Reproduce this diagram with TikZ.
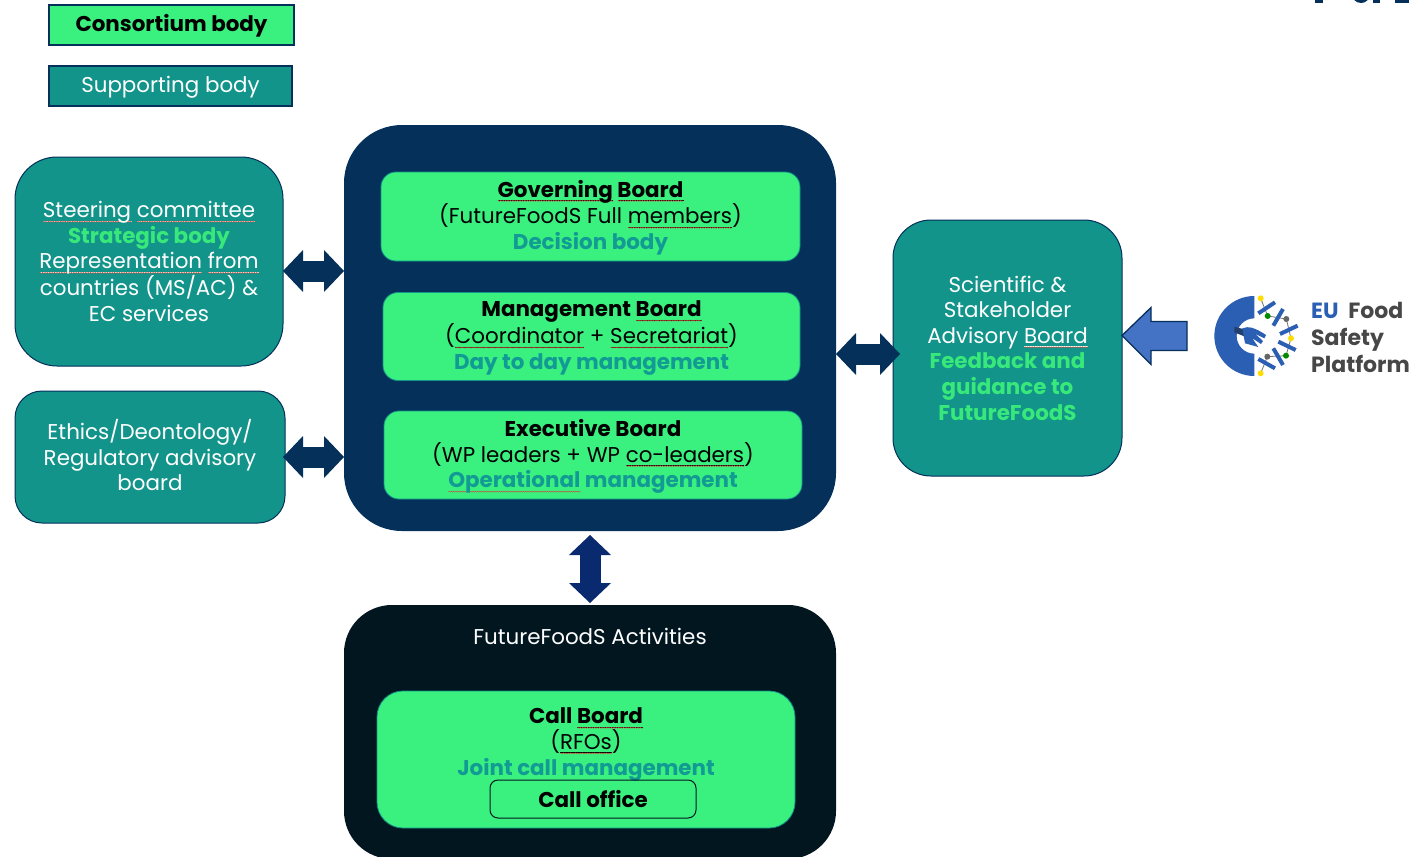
\documentclass[tikz,border=0pt]{standalone}
\usepackage{fontspec}
\setmainfont{Poppins}
\usetikzlibrary{arrows.meta,decorations.pathmorphing}
\definecolor{cgreen}{HTML}{3AF07F}
\definecolor{cteal}{HTML}{12948A}
\definecolor{cnavy}{HTML}{04305A}
\definecolor{cdark}{HTML}{02161F}
\definecolor{cdeep}{HTML}{0A2A70}
\definecolor{cblue}{HTML}{4472C4}
\definecolor{clogo}{HTML}{2B5FB3}
\definecolor{ctxtg}{HTML}{38E87A}
\definecolor{ctxtt}{HTML}{129A94}
\definecolor{csq}{HTML}{C8503C}
\newlength\sqw
\newcommand{\sq}[1]{\settowidth\sqw{#1}\rlap{\smash{\tikz[baseline=0pt,sharp corners]{%
  \draw[draw=.,line width=.6pt] (0pt,-3.2pt) -- (\sqw,-3.2pt);
  \draw[draw=csq,line width=.45pt,decorate,decoration={zigzag,amplitude=.5pt,segment length=2.4pt}] (0pt,-3.9pt) -- (\sqw,-3.9pt);}}}#1}
\newcommand{\sqr}[1]{\settowidth\sqw{#1}\rlap{\smash{\tikz[baseline=0pt,sharp corners]{%
  \draw[draw=csq,line width=.45pt,decorate,decoration={zigzag,amplitude=.5pt,segment length=2.4pt}] (0pt,-3.9pt) -- (\sqw,-3.9pt);}}}#1}
\tikzset{
  x=1pt,y=-1pt,
  bx/.style={inner sep=0pt,outer sep=0pt,align=center,font=\fontsize{21.4}{25.6}\selectfont},
  greenbox/.style={bx,fill=cgreen,draw=cteal,line width=.8pt,rounded corners=15pt,text=black},
  tealbox/.style={bx,fill=cteal,draw=cnavy,line width=1pt,text=white},
  legendbox/.style={bx,draw=cnavy,line width=1.2pt,rounded corners=0pt},
  dbl/.style={line width=21pt,draw=cnavy,{Triangle[length=20pt,width=42pt,line width=0pt]}-{Triangle[length=20pt,width=42pt,line width=0pt]}},
  dblv/.style={dbl,draw=cdeep},
  lbl/.style={inner sep=0pt,outer sep=0pt,align=center,font=\fontsize{21.4}{25.6}\selectfont},
  bar/.style={line width=4pt,draw=clogo},
  logotxt/.style={inner sep=0pt,anchor=base west,font=\fontsize{22}{26}\selectfont\bfseries,text=black!72},
}
\newcommand{\tg}[1]{{\color{ctxtg}\bfseries #1}}
\newcommand{\tq}[1]{{\color{ctxtt}\bfseries #1}}
\begin{document}
\begin{tikzpicture}
\useasboundingbox (0,0) rectangle (1409,857);
\fill[white] (0,0) rectangle (1409,857);
% clipped fragment of a cut-off mark at the top right
\begin{scope}
\clip (1300,0) rectangle (1409,3);
\fill[cnavy] (1315,0) rectangle (1323,3);
\fill[cnavy] (1361,-6) ellipse (9 and 9);
\fill[cnavy] (1373,0) rectangle (1380,3);
\fill[cnavy] (1395,0) rectangle (1409,3);
\end{scope}
% legend
\node[legendbox,fill=cgreen,text=black,minimum width=245pt,minimum height=40pt] (lega) at (171.5,25) {\raisebox{0pt}[14pt][2pt]{\bfseries Consortium body}};
\node[legendbox,fill=cteal,text=white,minimum width=243pt,minimum height=40pt] (legb) at (170.5,86) {\raisebox{0pt}[14pt][2pt]{Supporting body}};
% left boxes
\node[tealbox,rounded corners=42pt,minimum width=268pt,minimum height=209pt] (steer) at (149,261.5) {\sq{Steering} \sq{committee}\\\tg{Strategic body}\\\sq{Representation} \sq{from}\\countries (MS/AC) \&\\EC services};
\node[tealbox,rounded corners=27pt,minimum width=270pt,minimum height=132pt] (ethics) at (150,457) {Ethics/Deontology/\\Regulatory advisory\\\rule[-4pt]{0pt}{0pt}board};
% main
\node[bx,fill=cnavy,rounded corners=58pt,minimum width=492pt,minimum height=406pt] (main) at (590,328) {};
\node[greenbox,minimum width=419pt,minimum height=89pt] (gov) at (590.5,216.5) {};
\node[lbl,text=black] (govtxt) at (590.5,217.5) {\textbf{\sq{Governing} \sq{Board}}\\(FutureFoodS Full \sq{members})\\\tq{Decision body}};
\node[greenbox,minimum width=417pt,minimum height=88pt] (mgmt) at (591.5,336.5) {};
\node[lbl,text=black] (mgmttxt) at (591.5,338) {\textbf{Management \sq{Board}}\\(\sq{Coordinator} + \sq{Secretariat})\\\tq{Day to day management}};
\node[greenbox,minimum width=418pt,minimum height=88pt] (exec) at (593,455) {};
\node[lbl,text=black] (exectxt) at (593,456.5) {\textbf{Executive Board}\\(WP leaders + WP \sq{co-leaders})\\\tq{\sqr{Operational} management}};
% activities
\node[bx,fill=cdark,rounded corners=48pt,minimum width=492pt,minimum height=254pt] (act) at (590,732) {};
\node[lbl,text=white] (acttxt) at (590,636) {FutureFoodS Activities};
\node[greenbox,rounded corners=26pt,minimum width=418pt,minimum height=137pt] (call) at (586,759.5) {};
\node[lbl,text=black] (calltxt) at (586,744.5) {\textbf{Call \sq{Board}}\\(\sq{RFOs})\\\tq{Joint call management}};
\node[bx,draw=cdark,line width=1pt,rounded corners=8pt,minimum width=206pt,minimum height=38pt,text=black] (office) at (593,799) {\bfseries Call office};
% right box
\node[tealbox,rounded corners=38pt,minimum width=229pt,minimum height=256pt] (sci) at (1007.5,348) {Scientific \&\\Stakeholder\\Advisory \sq{Board}\\\tg{Feedback and}\\\tg{guidance to}\\\tg{FutureFoodS}};
% connectors
\coordinate (ya) at (0,271);
\coordinate (yb) at (0,457);
\coordinate (yc) at (0,354);
\coordinate (yd) at (0,335.5);
\draw[dbl] (steer.east |- ya) -- (main.west |- ya);
\draw[dbl] ([xshift=-2pt]ethics.east |- yb) -- (main.west |- yb);
\draw[dbl] (main.east |- yc) -- ([xshift=7pt]sci.west |- yc);
\draw[dblv] ([yshift=-4pt]main.south) -- ([yshift=2pt]act.north);
\coordinate (bt) at (sci.east |- yd);
\draw[draw=cnavy,fill=cblue,line width=1.3pt,line join=miter] (bt) -- ++(29,-28) -- ++(0,14) -- ++(36,0) -- ++(0,29) -- ++(-36,0) -- ++(0,14) -- cycle;
% logo
\begin{scope}[shift={(1205,285)},x=.3333pt,y=-.3333pt]
\fill[clogo] (148,33) arc[start angle=270,end angle=90,radius=120] -- (148,206) arc[start angle=90,end angle=270,radius=53] -- cycle;
\draw[line width=.8pt,draw=black!55] (167,40) -- (188,93) -- (244,102) -- (258,160) -- (243,212) -- (187,215) -- (167,265);
\draw[bar] (160,85) -- (210,52);
\draw[bar] (205,122) -- (234,72);
\draw[bar] (225,147) -- (278,122);
\draw[bar] (220,170) -- (272,195);
\draw[bar] (205,190) -- (234,240);
\draw[bar] (160,222) -- (210,250);
\fill[cblue!55!black] (88,125) -- (125,135) -- (120,155) -- (88,142) -- cycle;
\fill[clogo] (112,130) .. controls (130,122) and (150,128) .. (183,150) -- (178,160) -- (150,146) -- (174,168) -- (168,177) -- (142,160) -- (160,186) -- (120,175) -- cycle;
\fill[yellow!80!orange] (167,40) circle (9);
\fill[yellow!80!orange] (258,160) circle (9);
\fill[yellow!80!orange] (167,265) circle (9);
\fill[green!55!black] (188,93) circle (9);
\fill[green!55!black] (243,212) circle (9);
\fill[black!60] (244,102) circle (9);
\fill[black!60] (187,215) circle (9);
\end{scope}
\node[logotxt] (lg1) at (1311,318) {{\color{clogo}EU}\hspace{5pt} Food};
\node[logotxt] (lg2) at (1311,345) {Safety};
\node[logotxt] (lg3) at (1311,372) {Platform};
\end{tikzpicture}
\end{document}
